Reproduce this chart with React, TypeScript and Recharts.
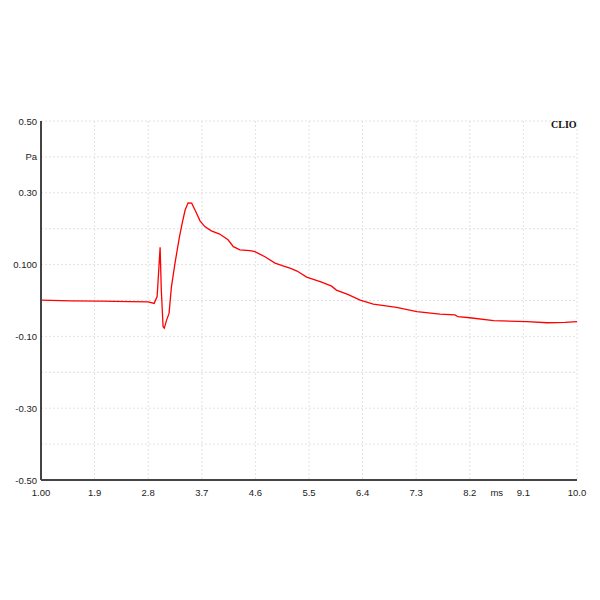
import React from "react";
import { LineChart, Line, XAxis, YAxis, CartesianGrid } from "recharts";

const timeMs = [1.0, 1.5, 2.0, 2.5, 2.8, 2.9, 2.95, 3.0, 3.02, 3.05, 3.07, 3.11, 3.15, 3.19, 3.25, 3.32, 3.37, 3.42, 3.47, 3.53, 3.6, 3.67, 3.75, 3.86, 4.0, 4.14, 4.23, 4.34, 4.51, 4.59, 4.76, 4.93, 5.05, 5.18, 5.3, 5.46, 5.7, 5.88, 5.96, 6.15, 6.36, 6.58, 6.97, 7.31, 7.7, 7.95, 7.98, 8.0, 8.2, 8.6, 9.16, 9.5, 9.8, 10.0];
const pressurePa = [0.001, -0.001, -0.002, -0.003, -0.004, -0.008, 0.011, 0.148, 0.029, -0.073, -0.077, -0.054, -0.036, 0.038, 0.104, 0.173, 0.215, 0.252, 0.272, 0.271, 0.247, 0.222, 0.206, 0.194, 0.185, 0.169, 0.150, 0.141, 0.139, 0.136, 0.122, 0.104, 0.097, 0.090, 0.082, 0.065, 0.052, 0.040, 0.029, 0.017, 0.001, -0.010, -0.019, -0.031, -0.038, -0.040, -0.043, -0.045, -0.048, -0.056, -0.059, -0.062, -0.061, -0.059];

const xTicks = [1.0, 1.9, 2.8, 3.7, 4.6, 5.5, 6.4, 7.3, 8.2, 9.1, 10.0];
const xTickLabels = ["1.00", "1.9", "2.8", "3.7", "4.6", "5.5", "6.4", "7.3", "8.2", "9.1", "10.0"];
const yTicks = [0.5, 0.4, 0.3, 0.2, 0.1, 0, -0.1, -0.2, -0.3, -0.4, -0.5];
const yTickLabels = ["0.50", "Pa", "0.30", "", "0.100", "", "-0.10", "", "-0.30", "", "-0.50"];
const xUnit = "ms";
const brand = "CLIO";

const data = timeMs.map((t, i) => ({ t, p: pressurePa[i] }));

const FONT = "Liberation Sans, Arial, sans-serif";
const FS = 9.5;

const XTick = (props: any) => {
  const { x, y, payload, index } = props;
  const label = xTickLabels[index] ?? String(payload.value);
  return (
    <g>
      <text x={x} y={y + 8} textAnchor="middle" fontSize={FS} fontFamily={FONT} fill="#222">
        {label}
      </text>
      {label === "8.2" ? (
        <text x={x + 27} y={y + 8} textAnchor="middle" fontSize={FS} fontFamily={FONT} fill="#222">
          {xUnit}
        </text>
      ) : null}
    </g>
  );
};

const YTick = (props: any) => {
  const { y, index } = props;
  const label = yTickLabels[index] ?? "";
  return (
    <text x={37} y={y + 3.5} textAnchor="end" fontSize={FS} fontFamily={FONT} fill="#222">
      {label}
    </text>
  );
};

export default function App() {
  return (
    <div style={{ width: 600, height: 600, position: "relative", margin: -8 }}>
      <LineChart
        width={600}
        height={600}
        data={data}
        margin={{ top: 121, right: 23, bottom: 0, left: 0 }}
      >
        <CartesianGrid stroke="#e2e2e2" strokeDasharray="2 2" />
        <XAxis
          dataKey="t"
          type="number"
          domain={[1, 10]}
          ticks={xTicks}
          tick={<XTick />}
          tickLine={false}
          axisLine={{ stroke: "#444", strokeWidth: 2 }}
          height={120}
          interval={0}
        />
        <XAxis
          xAxisId="top"
          dataKey="t"
          type="number"
          domain={[1, 10]}
          orientation="top"
          tick={false}
          tickLine={false}
          axisLine={{ stroke: "#444", strokeWidth: 1 }}
          height={0}
        />
        <YAxis
          type="number"
          domain={[-0.5, 0.5]}
          ticks={yTicks}
          tick={<YTick />}
          tickLine={false}
          axisLine={{ stroke: "#444", strokeWidth: 2 }}
          width={41}
          interval={0}
        />
        <YAxis
          yAxisId="right"
          orientation="right"
          type="number"
          domain={[-0.5, 0.5]}
          tick={false}
          tickLine={false}
          axisLine={{ stroke: "#888", strokeWidth: 2 }}
          width={0}
        />
        <Line
          type="linear"
          dataKey="p"
          stroke="#ff0000"
          strokeWidth={1.3}
          dot={false}
          isAnimationActive={false}
        />
      </LineChart>
      <div
        style={{
          position: "absolute",
          left: 551,
          top: 119,
          fontFamily: "Liberation Serif, serif",
          fontWeight: "bold",
          fontSize: 10,
          lineHeight: "12px",
          color: "#111",
        }}
      >
        {brand}
      </div>
    </div>
  );
}
